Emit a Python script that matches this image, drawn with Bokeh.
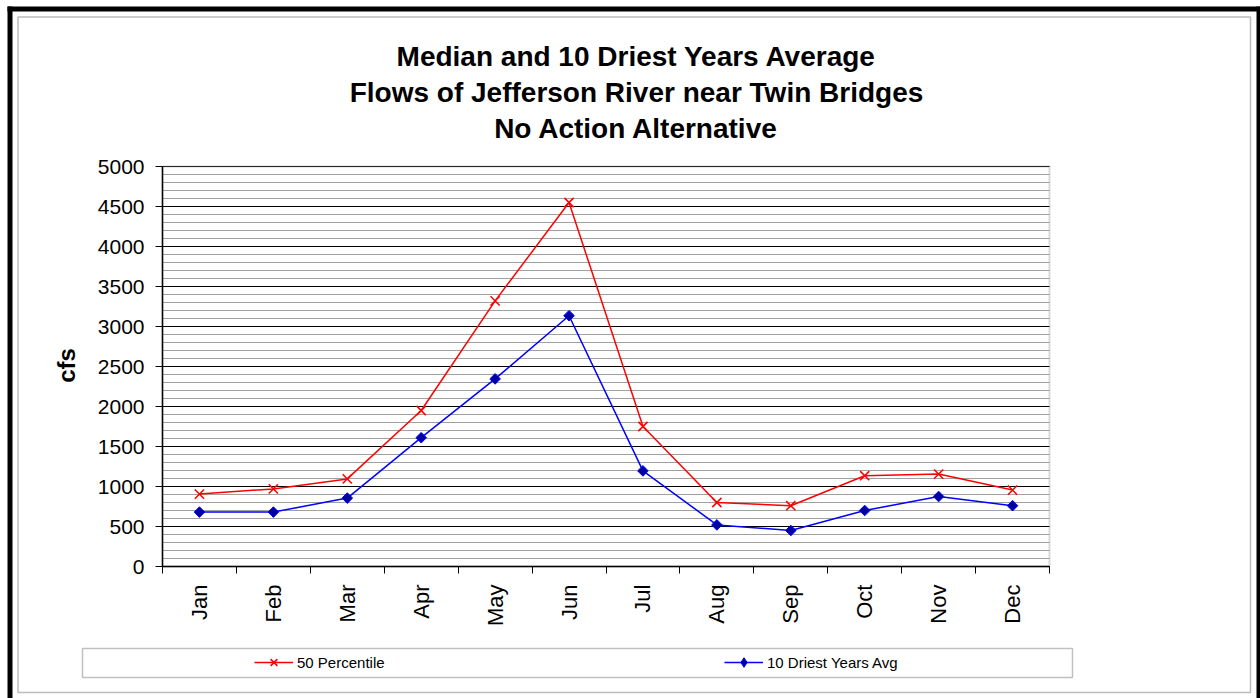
from math import pi
from bokeh.plotting import figure
from bokeh.models import (Range1d, LinearAxis, FixedTicker, SingleIntervalTicker, Legend,
                          LegendItem, Label, BoxAnnotation, ColumnDataSource, Grid)
from bokeh.embed import file_html
from bokeh.resources import INLINE

# ---- data ----
months = ["Jan", "Feb", "Mar", "Apr", "May", "Jun", "Jul", "Aug", "Sep", "Oct", "Nov", "Dec"]
percentile_50 = [905, 970, 1095, 1950, 3320, 4550, 1750, 800, 760, 1135, 1155, 955]
driest_10_avg = [680, 680, 855, 1610, 2345, 3135, 1195, 520, 450, 700, 875, 760]
series_names = ["50 Percentile", "10 Driest Years Avg"]
title_lines = ["Median and 10 Driest Years Average",
               "Flows of Jefferson River near Twin Bridges",
               "No Action Alternative"]
y_label = "cfs"
y_max = 5000
y_major = 500
y_minor_count = 5

FONT = "Liberation Sans"

# ---- layout (page pixels) ----
W, H = 1260, 698
PL, PR, PT, PB = 162, 1049, 166, 566          # plot area edges

n = len(months)
x_center = [i + 0.5 for i in range(n)]       # month i occupies slot [i, i+1]
x_edges = list(range(n + 1))

kx = (PR - PL) / n
ky = (PB - PT) / y_max
x_range = Range1d(-PL / kx, n + (W - PR) / kx)
y_range = Range1d(-(H - PB) / ky, y_max + PT / ky)

p = figure(width=W, height=H, x_range=x_range, y_range=y_range,
           output_backend="svg", toolbar_location=None,
           x_axis_location=None, y_axis_location=None, min_border=0)
p.background_fill_color = "white"
p.border_fill_color = "white"
p.outline_line_color = None

# ---- grid ----
yt = SingleIntervalTicker(interval=y_major, num_minor_ticks=y_minor_count)
p.xgrid.visible = False
g = p.ygrid[0]
if "cross_bounds" in Grid.properties():
    g.ticker = yt
    g.bounds = (0, y_max)
    g.cross_bounds = (0, n)
    g.grid_line_color = "black"
    g.grid_line_width = 1
    g.minor_grid_line_color = "#a0a0a0"
    g.minor_grid_line_width = 1
else:
    g.visible = False
    step = y_major // y_minor_count
    vals = list(range(0, y_max + 1, step))
    minor = [v for v in vals if v % y_major]
    major = [v for v in vals if v % y_major == 0]
    p.segment(x0=0, x1=n, y0=minor, y1=minor, line_color="#a0a0a0", line_width=1)
    p.segment(x0=0, x1=n, y0=major, y1=major, line_color="black", line_width=1)

# plot-area border (under the axes)
p.add_layout(BoxAnnotation(left=0, right=n, bottom=0, top=y_max, fill_alpha=0,
                           line_color="#808080", line_width=2, level="underlay"))

# ---- axes ----
yaxis = LinearAxis(ticker=yt, fixed_location=0, bounds=(0, y_max),
                   major_label_text_font=FONT, major_label_text_font_size="21px",
                   major_label_text_color="black", axis_line_color="black",
                   axis_line_width=1.5, major_tick_line_color="black",
                   major_tick_in=0, major_tick_out=7, minor_tick_line_color=None,
                   major_label_standoff=11)
p.add_layout(yaxis, "left")

edge_axis = LinearAxis(ticker=FixedTicker(ticks=x_edges), fixed_location=0, bounds=(0, n),
                       major_label_overrides={e: "" for e in x_edges},
                       major_label_text_font_size="0px", major_label_standoff=0,
                       major_tick_in=0, major_tick_out=7, minor_tick_line_color=None,
                       axis_line_color="black", axis_line_width=1.5,
                       major_tick_line_color="black")
p.add_layout(edge_axis, "below")
label_axis = LinearAxis(ticker=FixedTicker(ticks=x_center), fixed_location=0, bounds=(0, n),
                        major_label_overrides={c: m for c, m in zip(x_center, months)},
                        major_tick_line_color=None, axis_line_color=None,
                        minor_tick_line_color=None, major_tick_in=0, major_tick_out=0,
                        major_label_orientation=pi / 2, major_label_standoff=18,
                        major_label_text_font=FONT, major_label_text_font_size="22px",
                        major_label_text_color="black")
p.add_layout(label_axis, "below")

# ---- chart borders (screen px: x from left, y from bottom) ----
def sbox(**kw):
    return BoxAnnotation(left_units="screen", right_units="screen",
                         top_units="screen", bottom_units="screen", **kw)

p.add_layout(sbox(left=17.5, right=1250, top=H - 16.5, bottom=H - 692,
                  fill_alpha=0, line_color="#222222", line_width=1.5))
p.add_layout(sbox(left=7, right=12, top=H - 6, bottom=0,
                  fill_color="black", fill_alpha=1, line_color=None))
p.add_layout(sbox(left=7, right=W, top=H - 6, bottom=H - 11,
                  fill_color="black", fill_alpha=1, line_color=None))
p.add_layout(sbox(left=1256, right=W, top=H - 6, bottom=0,
                  fill_color="black", fill_alpha=1, line_color=None))
# legend box
p.add_layout(sbox(left=82, right=1072, top=H - 648, bottom=H - 677,
                  fill_color="white", fill_alpha=1, line_color="#333333", line_width=1.5))

# ---- series ----
src = ColumnDataSource(dict(x=x_center, month=months, p50=percentile_50, d10=driest_10_avg))
r1 = p.line("x", "p50", source=src, line_color="#ff0000", line_width=1.5)
r1m = p.scatter("x", "p50", source=src, marker="x", size=13,
                line_color="#ff0000", line_width=1.5)
r2 = p.line("x", "d10", source=src, line_color="#0000ff", line_width=1.5)
r2m = p.scatter("x", "d10", source=src, marker="square", angle=pi / 4, size=7.5,
                fill_color="#0000a0", line_color="#0000ff", line_width=1)
# legend-only marker (the legend does not rotate markers)
r2k = p.scatter("x", "d10", source=src, marker="diamond", size=12,
                fill_color="#0000a0", line_color="#0000ff", line_width=1, visible=False)

def mk_legend(item, loc):
    return Legend(items=[item], location=loc, orientation="horizontal",
                  padding=0, margin=0, spacing=0, glyph_width=39, glyph_height=24,
                  label_height=24, label_standoff=4, label_text_font=FONT,
                  label_text_font_size="15px", label_text_color="black",
                  border_line_color=None, background_fill_alpha=0)

p.add_layout(mk_legend(LegendItem(label=series_names[0], renderers=[r1, r1m]), (254, H - 674)))
p.add_layout(mk_legend(LegendItem(label=series_names[1], renderers=[r2, r2k]), (724, H - 674)))

# ---- titles ----
for i, t in enumerate(title_lines):
    p.add_layout(Label(x=636, y=H - (56 + 36 * i), x_units="screen", y_units="screen", text=t,
                       text_align="center", text_baseline="alphabetic", text_font=FONT,
                       text_font_style="bold", text_font_size="28px", text_color="black"))

p.add_layout(Label(x=66, y=H - 365, x_units="screen", y_units="screen", text=y_label,
                   angle=pi / 2, text_align="center", text_baseline="middle", text_font=FONT,
                   text_font_style="bold", text_font_size="24px", text_color="black"))

open("out.html", "w").write(file_html(p, INLINE))
